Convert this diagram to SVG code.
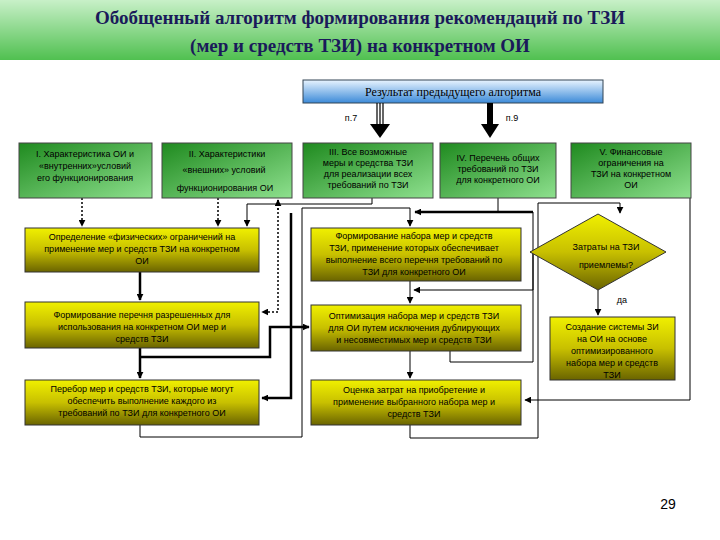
<svg xmlns="http://www.w3.org/2000/svg" width="720" height="540" viewBox="0 0 720 540">
<defs>
<linearGradient id="hdr" x1="0" y1="0" x2="0" y2="1"><stop offset="0" stop-color="#c8f0c8"/><stop offset="1" stop-color="#50c050"/></linearGradient>
<linearGradient id="blu" x1="0" y1="0" x2="0" y2="1"><stop offset="0" stop-color="#e8f4ff"/><stop offset="1" stop-color="#3c8ad8"/></linearGradient>
<linearGradient id="grn" x1="0" y1="0" x2="1" y2="1"><stop offset="0" stop-color="#1f8a1f"/><stop offset="1" stop-color="#8ee08e"/></linearGradient>
<linearGradient id="yel" x1="0" y1="0" x2="0" y2="1"><stop offset="0" stop-color="#f0f000"/><stop offset="0.5" stop-color="#c8c000"/><stop offset="1" stop-color="#6a6400"/></linearGradient>
<marker id="a" viewBox="0 0 10 10" refX="9" refY="5" markerWidth="7" markerHeight="7" markerUnits="userSpaceOnUse" orient="auto"><path d="M0,0L10,5L0,10z" fill="#000"/></marker>
<style>
.t{font-family:"Liberation Sans",Arial,sans-serif;font-size:9px;fill:#000;text-anchor:middle}
.h{font-family:"Liberation Serif","Times New Roman",serif;font-size:19px;font-weight:bold;fill:#1a1a5a;text-anchor:middle}
.g{fill:url(#grn);stroke:#444;stroke-width:1}
.y{fill:url(#yel);stroke:#333;stroke-width:1}
.c{fill:none;stroke:#000;stroke-width:1}
.k{fill:none;stroke:#000;stroke-width:2.5}
.d{fill:none;stroke:#000;stroke-width:1.5;stroke-dasharray:2,2}
</style>
</defs>
<rect width="720" height="540" fill="#fff"/>
<g id="title"><rect x="0" y="0" width="720" height="60" fill="url(#hdr)"/>
<text class="h" x="360" y="24">Обобщенный алгоритм формирования рекомендаций по ТЗИ</text>
<text class="h" x="360" y="52">(мер и средств ТЗИ) на конкретном ОИ</text></g>
<g id="result"><rect x="303" y="80" width="300" height="23" fill="url(#blu)" stroke="#345"/>
<text x="453" y="96" font-family="Liberation Serif,serif" font-size="12" text-anchor="middle">Результат предыдущего алгоритма</text></g>
<g id="conn">
<path d="M377,103V125M380,103V125M383,103V125" stroke="#000" stroke-width="1.2"/>
<path d="M370,124L380,138L390,124z"/>
<path d="M490,103V125" stroke="#000" stroke-width="6"/>
<path d="M481,124L490,138L499,124z"/>
<path class="d" d="M82,198V226" marker-end="url(#a)"/>
<path class="d" d="M218,198V226" marker-end="url(#a)"/>
<path class="c" d="M372,198V204H247V226" marker-end="url(#a)"/>
<path class="d" d="M278,200V312H262" marker-end="url(#a)"/>
<path class="d" d="M278,210V200" marker-end="url(#a)"/>
<path class="k" d="M140,272V300" marker-end="url(#a)"/>
<path class="k" d="M140,348V378" marker-end="url(#a)"/>
<path class="k" d="M140,357H270V327H309" marker-end="url(#a)"/>
<path class="c" d="M140,425V437H302V208H410V226" marker-end="url(#a)"/>
<path class="k" d="M291,213V398H262" marker-end="url(#a)"/>
<path class="c" d="M498,198V212"/>
<path class="k" d="M533,212H415" marker-end="url(#a)"/>
<path class="c" d="M450,351V362H533V212"/>
<path class="c" d="M410,281V303" marker-end="url(#a)"/>
<path class="c" d="M530,252H533V290H414" marker-end="url(#a)"/>
<path class="c" d="M410,351V378" marker-end="url(#a)"/>
<path class="c" d="M410,425V438H538V203H620V213" marker-end="url(#a)"/>
<path class="c" d="M690,198V400H525" marker-end="url(#a)"/>
<path class="c" d="M598,290V315" marker-end="url(#a)"/>
<text class="t" x="622" y="303">да</text>
<text class="t" x="351" y="121">п.7</text>
<text class="t" x="512" y="121">п.9</text>
</g>
<g id="n1"><rect class="g" x="19" y="143" width="133" height="55"/><text class="t" x="85" y="157">I. Характеристика ОИ и</text><text class="t" x="85" y="169">«внутренних»условий</text><text class="t" x="85" y="181">его функционирования</text></g>
<g id="n2"><rect class="g" x="162" y="143" width="130" height="55"/><text class="t" x="227" y="157">II.     Характеристики</text><text class="t" x="224" y="173">«внешних» условий</text><text class="t" x="225" y="191">функционирования ОИ</text></g>
<g id="n3"><rect class="g" x="303" y="143" width="130" height="55"/><text class="t" x="368" y="155">III.   Все возможные</text><text class="t" x="368" y="166">меры и средства ТЗИ</text><text class="t" x="368" y="177">для реализации всех</text><text class="t" x="368" y="188">требований по ТЗИ</text></g>
<g id="n4"><rect class="g" x="440" y="143" width="116" height="55"/><text class="t" x="498" y="161">IV. Перечень общих</text><text class="t" x="498" y="172">требований по ТЗИ</text><text class="t" x="498" y="183">для конкретного ОИ</text></g>
<g id="n5"><rect class="g" x="571" y="143" width="120" height="55"/><text class="t" x="631" y="155">V.    Финансовые</text><text class="t" x="631" y="166">ограничения     на</text><text class="t" x="631" y="177">ТЗИ  на конкретном</text><text class="t" x="631" y="188">ОИ</text></g>
<g id="l1"><rect class="y" x="25" y="228" width="234" height="44"/><text class="t" x="142" y="240">Определение «физических» ограничений на</text><text class="t" x="142" y="252">применение мер и средств ТЗИ на конкретном</text><text class="t" x="142" y="264">ОИ</text></g>
<g id="l2"><rect class="y" x="25" y="302" width="234" height="46"/><text class="t" x="142" y="318">Формирование перечня разрешенных для</text><text class="t" x="142" y="330">использования на конкретном ОИ мер и</text><text class="t" x="142" y="342">средств ТЗИ</text></g>
<g id="l3"><rect class="y" x="25" y="380" width="234" height="45"/><text class="t" x="142" y="392">Перебор мер и средств  ТЗИ, которые могут</text><text class="t" x="142" y="404">обеспечить выполнение каждого из</text><text class="t" x="142" y="416">требований по ТЗИ для конкретного ОИ</text></g>
<g id="m1"><rect class="y" x="311" y="228" width="210" height="53"/><text class="t" x="414" y="239">Формирование набора мер и средств</text><text class="t" x="414" y="251">ТЗИ, применение которых обеспечивает</text><text class="t" x="414" y="263">выполнение всего перечня требований по</text><text class="t" x="414" y="275">ТЗИ для конкретного ОИ</text></g>
<g id="m2"><rect class="y" x="311" y="305" width="210" height="46"/><text class="t" x="414" y="319">Оптимизация набора мер и средств ТЗИ</text><text class="t" x="414" y="331">для ОИ путем исключения дублирующих</text><text class="t" x="414" y="343">и несовместимых мер и средств ТЗИ</text></g>
<g id="m3"><rect class="y" x="311" y="380" width="210" height="45"/><text class="t" x="414" y="393">Оценка затрат на приобретение и</text><text class="t" x="414" y="405">применение выбранного набора мер и</text><text class="t" x="414" y="417">средств ТЗИ</text></g>
<g id="dia"><path class="y" d="M598,214L666,252L598,290L530,252z"/><text class="t" x="606" y="250">Затраты на ТЗИ</text><text class="t" x="606" y="268">приемлемы?</text></g>
<g id="r"><rect class="y" x="550" y="317" width="125" height="63"/><text class="t" x="612" y="330">Создание системы ЗИ</text><text class="t" x="612" y="342">на ОИ на основе</text><text class="t" x="612" y="354">оптимизированного</text><text class="t" x="612" y="366">набора мер и средств</text><text class="t" x="612" y="378">ТЗИ</text></g>
<text x="668" y="509" font-family="Liberation Sans,sans-serif" font-size="14" text-anchor="middle">29</text>
</svg>
